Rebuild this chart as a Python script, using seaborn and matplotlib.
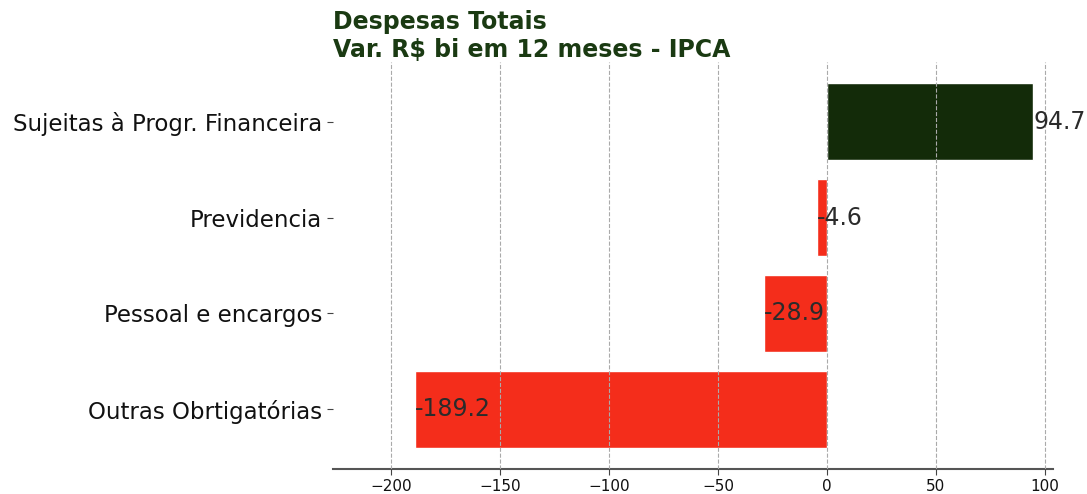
import matplotlib
matplotlib.use("Agg")
import matplotlib.pyplot as plt
import seaborn as sns
import pandas as pd

categorias = ["Sujeitas à Progr. Financeira", "Previdencia", "Pessoal e encargos", "Outras Obrtigatórias"]
valores = [94.7, -4.6, -28.9, -189.2]

verde = "#132b09"
vermelho = "#f42d1b"
cores = [verde if v > 0 else vermelho for v in valores]

df = pd.DataFrame({"categoria": categorias, "valor": valores})

sns.set_style("white")
fig = plt.figure(figsize=(10.87, 4.94), dpi=100)
ax = fig.add_axes([0.306, 0.051, 0.663, 0.823])

sns.barplot(data=df, x="valor", y="categoria", hue="categoria", palette=cores,
            legend=False, orient="h", width=0.8, saturation=1, ax=ax)

# rótulos no fim de cada barra
for i, v in enumerate(valores):
    ax.text(v, i, f"{v:.1f}", ha="left", va="center",
            fontsize=17, color="#2b2b2b")

ax.set_xlim(-227, 104)
ax.set_ylim(3.62, -0.62)
ax.set_axisbelow(False)
ax.grid(axis="x", linestyle="--", color="#aaaaaa", linewidth=0.8)
ax.grid(axis="y", visible=False)
for s in ["top", "right", "left"]:
    ax.spines[s].set_visible(False)
ax.spines["bottom"].set_color("#555555")
ax.spines["bottom"].set_linewidth(1.5)
ax.tick_params(axis="y", left=True, length=4, labelsize=16.5, color="#444444", labelcolor="#111111")
ax.tick_params(axis="x", bottom=True, length=4, labelsize=11, color="#444444", labelcolor="#111111")
ax.set_xlabel("")
ax.set_ylabel("")
ax.set_title("Despesas Totais\nVar. R$ bi em 12 meses - IPCA", loc="left",
             fontsize=17, fontweight="bold", color="#1a3a12", linespacing=1.2, pad=4)

fig.savefig("out.png", dpi=100)
